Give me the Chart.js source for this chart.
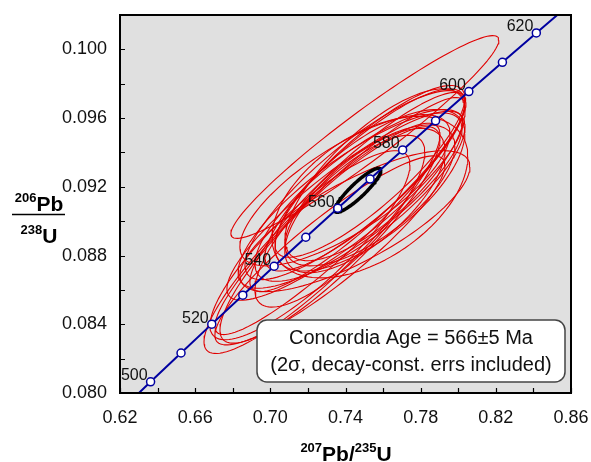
<!DOCTYPE html>
<html>
<head>
<meta charset="utf-8">
<script src="https://cdn.jsdelivr.net/npm/chart.js@4.4.1/dist/chart.umd.min.js"></script>
<style>
  html, body { margin: 0; padding: 0; background: #ffffff; }
  #wrap { width: 591px; height: 462px; }
</style>
</head>
<body>
<div id="wrap"><canvas id="concordiaChart" width="591" height="462"></canvas></div>
<script>
// decay constants, per Ma
const LAMBDA_238 = 1.55125e-4;
const LAMBDA_235 = 9.8485e-4;

// concordia ages (Ma)
const curveAges = [490, 500, 510, 520, 530, 540, 550, 560, 570, 580, 590, 600, 610, 620, 630];
const markerAges = [500, 510, 520, 530, 540, 550, 560, 570, 580, 590, 600, 610, 620];
const labelAges = [500, 520, 540, 560, 580, 600, 620];

// error ellipses: centre (207Pb/235U, 206Pb/238U), 2 sigma half widths, correlation
const ellX   = [0.7503, 0.7275, 0.7317, 0.7370, 0.7450, 0.7477, 0.7503, 0.7424, 0.7530, 0.7397, 0.7557, 0.7466, 0.7450, 0.7397, 0.7370, 0.7530, 0.7503, 0.7211, 0.7317, 0.7530, 0.7530];
const ellY   = [0.0949, 0.0890, 0.0892, 0.0903, 0.0921, 0.0915, 0.0924, 0.0912, 0.0918, 0.0909, 0.0927, 0.0917, 0.0900, 0.0918, 0.0900, 0.0915, 0.0912, 0.0886, 0.0883, 0.0929, 0.0914];
const ellSx  = [0.0713, 0.0628, 0.0585, 0.0665, 0.0585, 0.0559, 0.0532, 0.0596, 0.0505, 0.0628, 0.0479, 0.0575, 0.0612, 0.0559, 0.0452, 0.0452, 0.0426, 0.0532, 0.0612, 0.0505, 0.0521];
const ellSy  = [0.0059, 0.0067, 0.0063, 0.0069, 0.0055, 0.0050, 0.0053, 0.0051, 0.0047, 0.0055, 0.0050, 0.0058, 0.0041, 0.0044, 0.0050, 0.0041, 0.0042, 0.0055, 0.0055, 0.0050, 0.0047];
const ellRho = [0.955, 0.90, 0.88, 0.93, 0.85, 0.80, 0.85, 0.82, 0.70, 0.88, 0.75, 0.90, 0.77, 0.75, 0.80, 0.70, 0.70, 0.85, 0.90, 0.85, 0.50];

// concordia age ellipse
const ageEllipse = { x: 0.7466, y: 0.0918, sx: 0.0122, sy: 0.00128, rho: 0.90 };

const concordiaAgeText = 'Concordia Age = 566\u00b15 Ma';
const concordiaNoteText = '(2\u03c3, decay-const. errs included)';

const FONT = "'Liberation Sans', Arial, sans-serif";

function agePoint(age) {
  return { x: Math.exp(LAMBDA_235 * age) - 1, y: Math.exp(LAMBDA_238 * age) - 1, age: age };
}

function ellipsePoints(cx, cy, sx, sy, rho) {
  const pts = [];
  const k = Math.sqrt(1 - rho * rho);
  for (let i = 0; i <= 120; i++) {
    const t = i / 120 * Math.PI * 2;
    pts.push({ x: cx + sx * Math.cos(t), y: cy + sy * (rho * Math.cos(t) + k * Math.sin(t)) });
  }
  return pts;
}

const datasets = [];
ellX.forEach((cx, i) => {
  datasets.push({
    data: ellipsePoints(cx, ellY[i], ellSx[i], ellSy[i], ellRho[i]),
    showLine: true, pointRadius: 0, borderColor: '#e00000', borderWidth: 1.1,
    borderJoinStyle: 'round', order: 4
  });
});
datasets.push({
  data: ellipsePoints(ageEllipse.x, ageEllipse.y, ageEllipse.sx, ageEllipse.sy, ageEllipse.rho),
  showLine: true, pointRadius: 0, borderColor: '#000000', borderWidth: 3.5,
  borderJoinStyle: 'round', borderCapStyle: 'round', order: 3
});
datasets.push({
  data: curveAges.map(agePoint),
  showLine: true, pointRadius: 0, borderColor: '#0000a0', borderWidth: 2, order: 2
});
datasets.push({
  data: markerAges.map(agePoint),
  showLine: false, pointRadius: 4, pointBackgroundColor: '#ffffff',
  pointBorderColor: '#0000a0', pointBorderWidth: 1.5, order: 1
});

function drawSupText(ctx, parts, x, y, align) {
  // parts: [text, isSup]
  const widths = parts.map(p => {
    ctx.font = p[1] ? 'bold 13px ' + FONT : 'bold 21px ' + FONT;
    return ctx.measureText(p[0]).width;
  });
  const total = widths.reduce((a, b) => a + b, 0);
  let cur = align === 'center' ? x - total / 2 : x;
  ctx.textAlign = 'left';
  ctx.textBaseline = 'alphabetic';
  parts.forEach((p, i) => {
    ctx.font = p[1] ? 'bold 13px ' + FONT : 'bold 21px ' + FONT;
    ctx.fillText(p[0], cur, p[1] ? y - 9 : y);
    cur += widths[i];
  });
}

// keep the plot area where the reference has it
function noScalePadding(s) {
  s.paddingLeft = 0;
  s.paddingRight = 0;
  s.paddingTop = 0;
  s.paddingBottom = 0;
}

const decorPlugin = {
  id: 'decor',
  beforeDraw(chart) {
    const { ctx, chartArea } = chart;
    ctx.save();
    ctx.fillStyle = '#e0e0e0';
    ctx.fillRect(chartArea.left, chartArea.top, chartArea.right - chartArea.left, chartArea.bottom - chartArea.top);
    ctx.restore();
  },
  afterDatasetsDraw(chart) {
    const { ctx, chartArea, scales } = chart;
    ctx.save();

    // age labels on the concordia
    ctx.fillStyle = '#111';
    ctx.font = '16px ' + FONT;
    ctx.textAlign = 'right';
    ctx.textBaseline = 'middle';
    labelAges.forEach(age => {
      const p = agePoint(age);
      ctx.fillText(String(age), scales.x.getPixelForValue(p.x) - 3, scales.y.getPixelForValue(p.y) - 6);
    });

    // frame
    ctx.strokeStyle = '#000';
    ctx.lineWidth = 2;
    ctx.strokeRect(chartArea.left, chartArea.top, chartArea.right - chartArea.left, chartArea.bottom - chartArea.top);

    // inside ticks
    ctx.lineWidth = 1.2;
    ctx.beginPath();
    scales.x.ticks.forEach(t => {
      const px = Math.round(scales.x.getPixelForValue(t.value)) + 0.5;
      ctx.moveTo(px, chartArea.bottom);
      ctx.lineTo(px, chartArea.bottom - 5);
    });
    scales.y.ticks.forEach(t => {
      const py = Math.round(scales.y.getPixelForValue(t.value)) + 0.5;
      ctx.moveTo(chartArea.left, py);
      ctx.lineTo(chartArea.left + 5, py);
    });
    ctx.stroke();

    // concordia age box
    const bx = 257, by = 320, bw = 308, bh = 62;
    ctx.beginPath();
    ctx.roundRect(bx, by, bw, bh, 10);
    ctx.fillStyle = '#ffffff';
    ctx.fill();
    ctx.strokeStyle = '#444';
    ctx.lineWidth = 1.5;
    ctx.stroke();
    ctx.fillStyle = '#111';
    ctx.font = '20px ' + FONT;
    ctx.textAlign = 'center';
    ctx.textBaseline = 'middle';
    ctx.fillText(concordiaAgeText, bx + bw / 2, by + 18);
    ctx.fillText(concordiaNoteText, bx + bw / 2, by + 45);

    // axis titles
    ctx.fillStyle = '#000';
    drawSupText(ctx, [['207', true], ['Pb/', false], ['235', true], ['U', false]], 346, 461, 'center');
    drawSupText(ctx, [['206', true], ['Pb', false]], 39, 211, 'center');
    drawSupText(ctx, [['238', true], ['U', false]], 39, 243, 'center');
    ctx.beginPath();
    ctx.moveTo(12, 214.5);
    ctx.lineTo(65, 214.5);
    ctx.lineWidth = 1.5;
    ctx.strokeStyle = '#000';
    ctx.stroke();

    ctx.restore();
  }
};

const ctx = document.getElementById('concordiaChart').getContext('2d');
new Chart(ctx, {
  type: 'scatter',
  data: { datasets: datasets },
  options: {
    responsive: false,
    animation: false,
    layout: { padding: { top: 15, right: 20, left: 0, bottom: 0 } },
    plugins: { legend: { display: false }, tooltip: { enabled: false } },
    scales: {
      x: {
        type: 'linear', min: 0.62, max: 0.86,
        afterFit: s => { s.height = 69; noScalePadding(s); },
        border: { display: false },
        grid: { display: false, drawTicks: false },
        ticks: {
          stepSize: 0.02, padding: 14, color: '#111', maxRotation: 0, autoSkip: false,
          font: { family: FONT, size: 18 },
          callback: v => (Math.round(v * 100) % 4 === 2 ? v.toFixed(2) : '')
        }
      },
      y: {
        type: 'linear', min: 0.080, max: 0.102,
        afterFit: s => { s.width = 120; noScalePadding(s); },
        border: { display: false },
        grid: { display: false, drawTicks: false },
        ticks: {
          stepSize: 0.002, padding: 13, color: '#111', autoSkip: false,
          font: { family: FONT, size: 18 },
          callback: v => (Math.round(v * 1000) % 4 === 0 ? v.toFixed(3) : '')
        }
      }
    }
  },
  plugins: [decorPlugin]
});
</script>
</body>
</html>
